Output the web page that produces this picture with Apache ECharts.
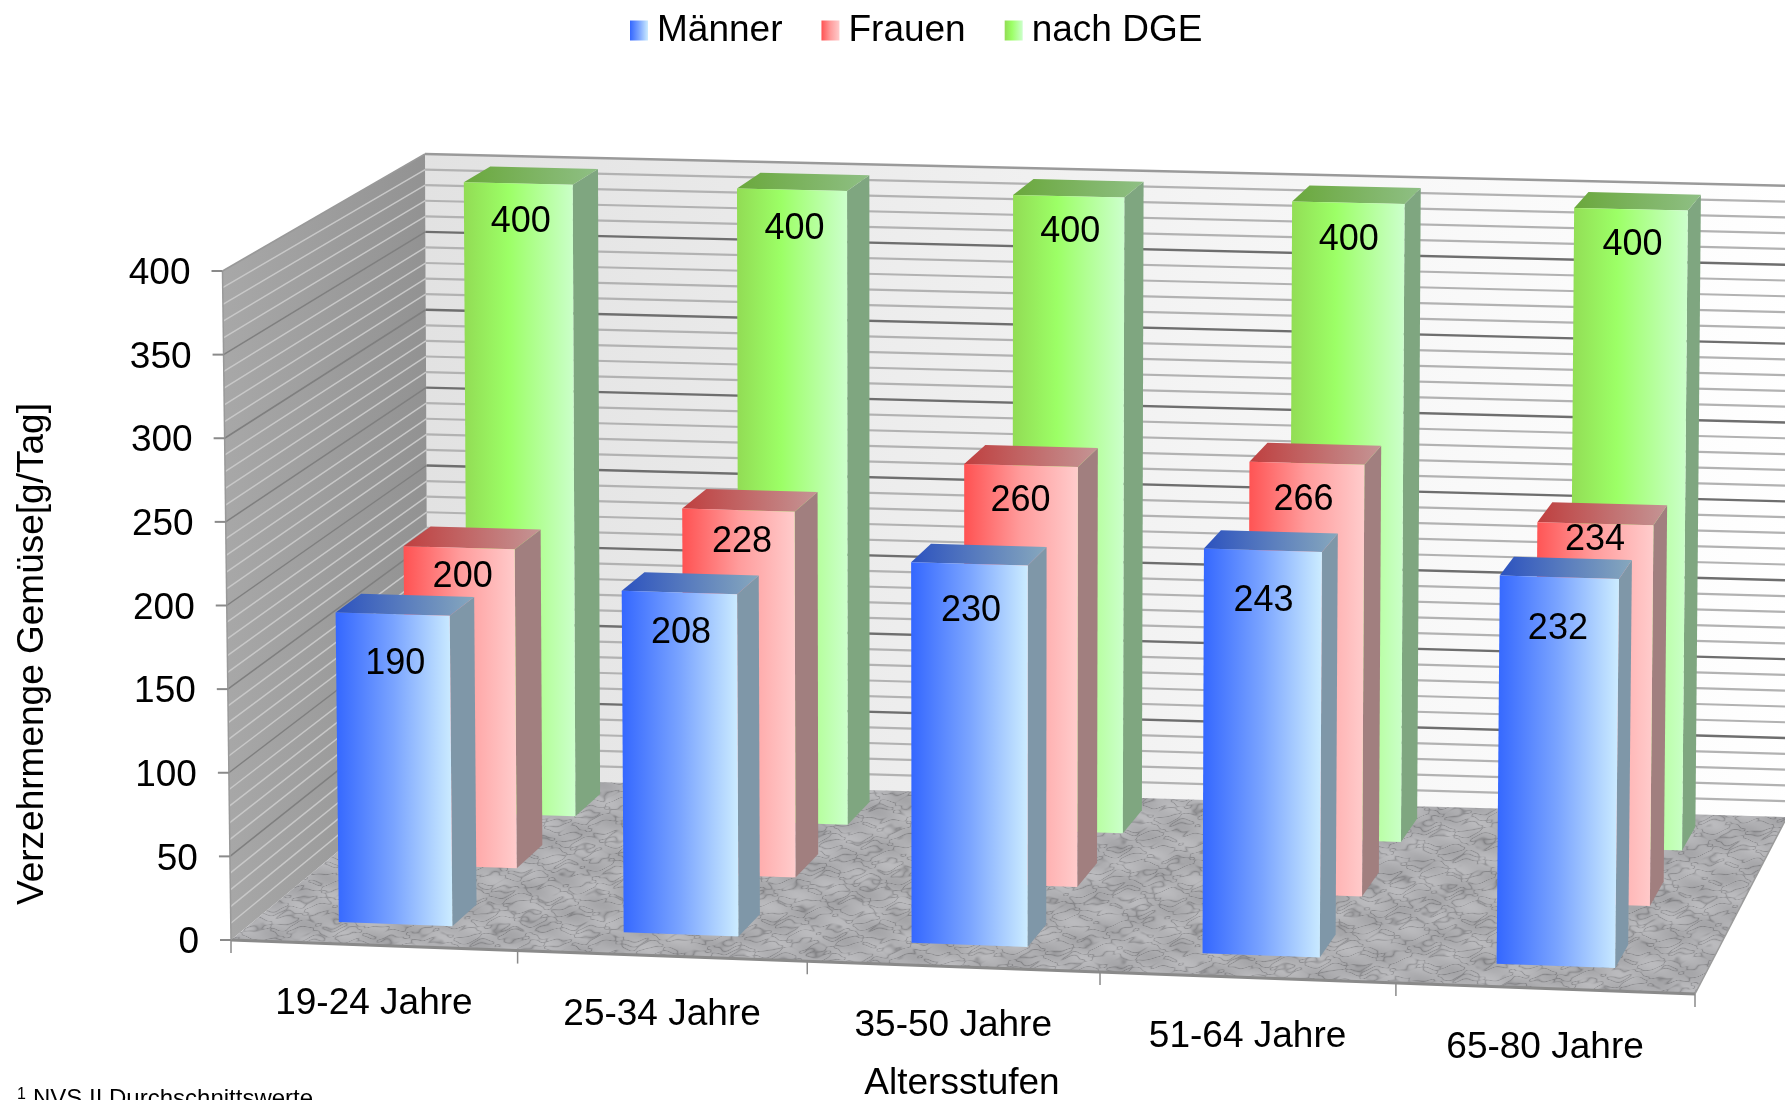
<!DOCTYPE html>
<html><head><meta charset="utf-8">
<style>html,body{margin:0;padding:0;background:#fff;overflow:hidden}#c{width:1785px;height:1100px}</style>
<script src="https://cdn.jsdelivr.net/npm/echarts@6/dist/echarts.min.js"></script>
</head><body><div id="c"></div>
<script>
const categories = ['19-24 Jahre','25-34 Jahre','35-50 Jahre','51-64 Jahre','65-80 Jahre'];
const maenner = [190,208,230,243,232];
const frauen = [200,228,260,266,234];
const dge = [400,400,400,400,400];
const yTicks = [0,50,100,150,200,250,300,350,400];
const yMinor = [10,20,30,40,60,70,80,90,110,120,130,140,160,170,180,190,210,220,230,240,260,270,280,290,310,320,330,340,360,370,380,390];

const F = '"Liberation Sans", Arial, sans-serif';
const C = {fbl:[231,940],fbr:[1695,994],ftl:[222.5,271],ftr:[1703,304],
           bbl:[428,777],bbr:[1787,817],btl:[425,154],btr:[1793,186]};
const G = {left:0, top:0, w:1785, h:1100};
const lerp=(a,b,t)=>[a[0]+(b[0]-a[0])*t,a[1]+(b[1]-a[1])*t];
function warp(t){const k=1.027;return t/(t+(1-t)*k);}
function P(api,x,val,z){
  const p=api.coord([x,val]);
  const u=warp((p[0]-G.left)/G.w), v=1-(p[1]-G.top)/G.h;
  const fb=lerp(C.fbl,C.fbr,u), ft=lerp(C.ftl,C.ftr,u), bb=lerp(C.bbl,C.bbr,u), bt=lerp(C.btl,C.btr,u);
  return lerp(lerp(fb,ft,v),lerp(bb,bt,v),z);
}
const grad=(stops,x2=1,y2=0)=>({type:'linear',x:0,y:0,x2,y2,colorStops:stops.map(c=>({offset:c[0],color:c[1]}))});
const poly=(points,fill,extra)=>({type:'polygon',shape:{points},style:Object.assign({fill,stroke:null},extra||{}),silent:true});
const line=(a,b,stroke,lineWidth)=>({type:'line',shape:{x1:a[0],y1:a[1],x2:b[0],y2:b[1]},style:{stroke,lineWidth,fill:null},silent:true});
const txt=(text,x,y,align,size,extra)=>({type:'text',silent:true,style:Object.assign({text,x,y,align:align||'center',verticalAlign:'middle',fill:'#000',font:(size||36)+'px '+F},extra||{})});

function marble(){
  const w=700,h=120,cv=document.createElement('canvas');cv.width=w;cv.height=h;
  const c=cv.getContext('2d'),im=c.createImageData(w,h),T=2*Math.PI;
  for(let y=0;y<h;y++)for(let x=0;x<w;x++){
    const a=x/w*T,b=y/h*T;
    const n=Math.sin(5*b+7*a+1.8*Math.sin(11*a+2*b))+Math.sin(9*b-13*a+1.5*Math.sin(17*a-3*b))+0.7*Math.sin(14*b+23*a+1.6*Math.sin(29*a+4*b));
    const vein=Math.pow(Math.max(0,1-Math.abs(n)*1.0),2.4);
    const g=176+6*Math.sin(6*a+3*b)+5*Math.sin(15*a-4*b)-36*vein;
    const i=(y*w+x)*4;im.data[i]=g;im.data[i+1]=g;im.data[i+2]=g+3;im.data[i+3]=255;
  }
  c.putImageData(im,0,0);return cv;
}
const floorPattern={image:marble(),repeat:'repeat'};

function backdrop(params,api){
  const ch=[],X=categories.length;
  const tl=P(api,0,400,1),tr=P(api,X,400,1),bl=P(api,0,0,1),br=P(api,X,0,1);
  const ftl=P(api,0,400,0),fbl=P(api,0,0,0),fbr=P(api,X,0,0);
  ch.push(poly([tl,tr,br,bl],grad([[0,'#e2e2e2'],[0.6,'#f5f5f5'],[1,'#ffffff']])));
  ch.push(poly([ftl,tl,bl,fbl],grad([[0,'#a8a8a8'],[1,'#929292']])));
  yMinor.forEach(v=>{
    ch.push(line(P(api,0,v,1),P(api,X,v,1),'#b2b2b2',2.2));
    ch.push(line(P(api,0,v,0),P(api,0,v,1),'#c8c8c8',1.5));
  });
  yTicks.forEach(v=>{
    if(v>0){
      ch.push(line(P(api,0,v,1),P(api,X,v,1),v===400?'#9a9a9a':'#6e6e6e',2.4));
      ch.push(line(P(api,0,v,0),P(api,0,v,1),v===400?'#999':'#7f7f7f',1.5));
    }
  });
  ch.push(poly([bl,br,fbr,fbl],floorPattern));
  ch.push(line(fbl,fbr,'#8a8a8a',3));
  ch.push(line(fbr,br,'#9a9a9a',1.5));
  ch.push(line(ftl,fbl,'#999',1.5));
  yTicks.forEach(v=>{
    const p=P(api,0,v,0);
    ch.push(line([p[0]-11,p[1]],p,'#8a8a8a',2));
    ch.push(txt(String(v),p[0]-32,p[1]+3,'right',37));
  });
  for(let i=0;i<=X;i++){
    const p=P(api,i,0,0);
    ch.push(line(p,[p[0],p[1]+13],'#8a8a8a',1.5));
  }
  categories.forEach((c,i)=>{
    const p=P(api,i+0.5,0,0);
    ch.push(txt(c,p[0],p[1]+59,'center',37));
  });
  return {type:'group',children:ch};
}

function barRenderer(z0,z1,half,shift,trim,styles,labelDrop,labelDx){
  return function(params,api){
    const x=api.value(0)+shift,raw=api.value(1),v=raw-trim,L=x-half,R=x+half;
    const fbl=P(api,L,0,z0),fbr=P(api,R,0,z0),ftl=P(api,L,v,z0),ftr=P(api,R,v,z0);
    const bbr=P(api,R,0,z1),btl=P(api,L,v,z1),btr=P(api,R,v,z1);
    const i=params.dataIndex, cx=(ftl[0]+ftr[0])/2+2.5+labelDx[i], cy=(ftl[1]+ftr[1])/2;
    return {type:'group',children:[
      poly([ftr,btr,bbr,fbr],styles.side),
      poly([ftl,ftr,btr,btl],styles.top),
      poly([ftl,ftr,fbr,fbl],styles.front),
      txt(String(raw),cx,cy+labelDrop[i],'center',36)
    ]};
  };
}
const BLUE={front:grad([[0,'#3467ff'],[0.5,'#7aa4ff'],[1,'#ccecff']]),side:'#7f97a8',top:grad([[0,'#2c52bf'],[1,'#87a8bd']])};
const RED ={front:grad([[0,'#ff5252'],[0.5,'#ff9c9c'],[1,'#ffcccc']]),side:'#a17f7f',top:grad([[0,'#bf3f3f'],[1,'#c49595']])};
const GREEN={front:grad([[0,'#92dc55'],[0.4,'#9cff66'],[1,'#ccffcc']]),side:'#7fa680',top:grad([[0,'#6aa83c'],[1,'#8fbf85']])};

const chart=echarts.init(document.getElementById('c'),null,{renderer:'canvas'});
const toData=a=>a.map((v,i)=>[i+0.5,v]);
const bars=(name,vals,z0,z1,shift,trim,st,drop,dx,zl)=>({name,type:'custom',coordinateSystem:'cartesian2d',z:zl,
  renderItem:barRenderer(z0,z1,0.2,shift,trim,st,drop,dx),data:toData(vals),itemStyle:{color:st.front},animation:false,silent:true});
chart.setOption({
  animation:false,backgroundColor:'#fff',
  grid:{left:G.left,top:G.top,width:G.w,height:G.h,containLabel:false},
  xAxis:{type:'value',min:0,max:5,show:false},
  yAxis:{type:'value',min:0,max:400,show:false},
  legend:{data:['Männer','Frauen','nach DGE'],left:625,top:7,itemWidth:18,itemHeight:20,itemGap:39,icon:'rect',selectedMode:false,
    textStyle:{fontFamily:F,fontSize:37,color:'#000',padding:[0,0,0,4]}},
  series:[
    {name:'Wand',type:'custom',coordinateSystem:'cartesian2d',z:1,renderItem:backdrop,data:[[0,0]],silent:true},
    bars('nach DGE',dge,0.795,0.93,-0.004,1.5,GREEN,[39,39,36,37,36],[0,0,-1,-2,-1],2),
    bars('Frauen',frauen,0.48,0.62,-0.008,3.5,RED,[29.5,32,36,36.5,16],[1,1,-3,-6,-3],3),
    bars('Männer',maenner,0.128,0.26,-0.008,3.5,BLUE,[50,41,47.5,51,52],[0,-1,-1,-2,-4],4)
  ],
  graphic:[
    {type:'text',rotation:Math.PI/2,x:33,y:654,style:{text:'Verzehrmenge Gemüse[g/Tag]',align:'center',verticalAlign:'middle',font:'37px '+F,fill:'#000'}},
    {type:'text',x:962,y:1084,style:{text:'Altersstufen',align:'center',verticalAlign:'middle',font:'37px '+F,fill:'#000'}},
    {type:'text',x:17,y:1087,style:{text:'1',align:'left',verticalAlign:'top',font:'16px '+F,fill:'#000'}},
    {type:'text',x:33,y:1087,style:{text:'NVS II Durchschnittswerte',align:'left',verticalAlign:'top',font:'24px '+F,fill:'#000'}}
  ]
});
</script></body></html>
